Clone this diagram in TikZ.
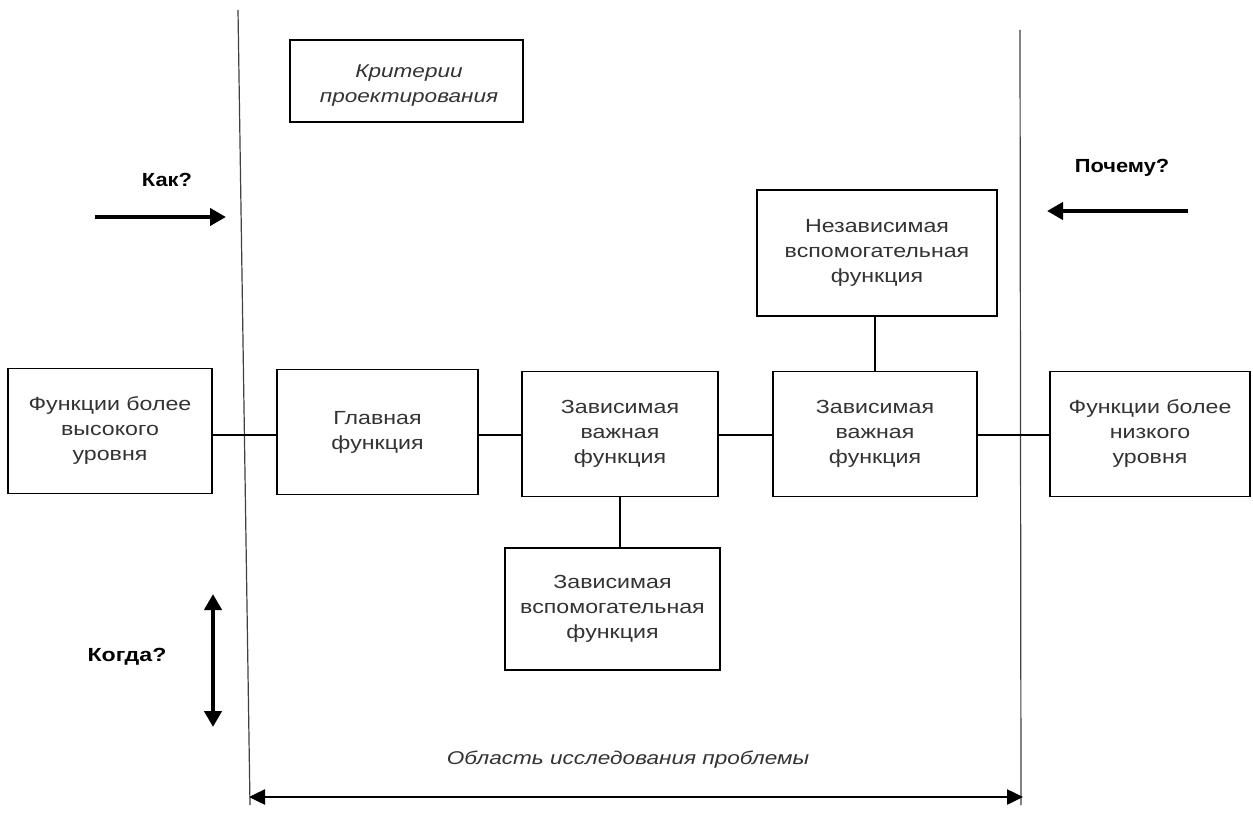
\documentclass[tikz,border=0pt]{standalone}
\usepackage{fontspec}
\setmainfont{Liberation Sans}
\newfontfamily\bxfont[FakeStretch=1.22]{Liberation Sans}
\newfontfamily\lblfont[FakeStretch=1.15]{Liberation Sans}
\usetikzlibrary{arrows.meta}
\begin{document}
\begin{tikzpicture}[x=1pt,y=-1pt,
  fbox/.style={draw,line width=1.6pt,align=center,text=black!80,font=\bxfont\fontsize{19}{25}\selectfont,inner sep=0pt,minimum height=125pt},
  conn/.style={line width=1.4pt},
  bigarrow/.style={line width=4pt,-{Triangle[length=16pt,width=17pt]}},
  lbl/.style={font=\lblfont\fontsize{19}{24}\selectfont\bfseries},
  bound/.style={line width=1.2pt,draw=black!75}]
\useasboundingbox[fill=white] (0,0) rectangle (1253,821);
% boundary lines
\coordinate (lt) at (238,10);
\coordinate (lb) at (250,805);
\coordinate (rt) at (1020,30);
\coordinate (rb) at (1021,805);
\draw[bound] (lt) -- (lb);
\draw[bound] (rt) -- (rb);
% boxes
\node[fbox,minimum width=233pt,minimum height=82pt] (crit) at (406.5,81) {};
\node[align=center,text=black!80,font=\bxfont\fontsize{18.5}{25}\selectfont\itshape,inner sep=0pt] (crittext) at (409,86) {Критерии\\проектирования};
\node[fbox,minimum width=240pt,minimum height=126pt] (indep) at (877,253) {Независимая\\вспомогательная\\функция};
\node[fbox,minimum width=204pt] (high) at (110,431) {Функции более\\высокого\\уровня};
\node[fbox,minimum width=201pt] (main) at (377.5,432) {Главная\\функция};
\node[fbox,minimum width=196pt] (dep1) at (620,434) {Зависимая\\важная\\функция};
\node[fbox,minimum width=204pt] (dep2) at (875,434) {Зависимая\\важная\\функция};
\node[fbox,minimum width=200pt] (low) at (1150,434) {Функции более\\низкого\\уровня};
\node[fbox,minimum width=215pt,minimum height=122pt] (depaux) at (612.5,609) {Зависимая\\вспомогательная\\функция};
% connectors
\coordinate (c1) at (212,435);
\draw[conn] (c1) -- (c1 -| main.west);
\coordinate (c2) at (478,435);
\draw[conn] (c2) -- (c2 -| dep1.west);
\coordinate (c3) at (718,435);
\draw[conn] (c3) -- (c3 -| dep2.west);
\coordinate (c4) at (977,435);
\draw[conn] (c4) -- (c4 -| low.west);
\draw[conn] (indep.south -| dep2.north) -- (dep2.north);
\draw[conn] (dep1.south) -- (dep1.south |- depaux.north);
% labels
\node[lbl] (kak) at (167,180) {Как?};
\node[lbl] (pochemu) at (1122,168) {Почему?};
\node[lbl,font=\bxfont\fontsize{19}{24}\selectfont\bfseries] (kogda) at (127,657) {Когда?};
\node[text=black!80,font=\bxfont\fontsize{18.5}{22}\selectfont\itshape] (area) at (628,760) {Область исследования проблемы};
% arrows
\coordinate (k1) at (95,217);
\coordinate (k2) at (226,217);
\draw[bigarrow] (k1) -- (k2);
\coordinate (p1) at (1188,211);
\coordinate (p2) at (1047,211);
\draw[bigarrow] (p1) -- (p2);
\coordinate (w1) at (213,594);
\coordinate (w2) at (213,727);
\draw[line width=4pt,{Triangle[length=16pt,width=17pt]}-{Triangle[length=16pt,width=17pt]}] (w1) -- (w2);
\coordinate (a1) at (249,797);
\coordinate (a2) at (1023,797);
\draw[line width=2.5pt,{Triangle[length=16pt,width=15pt]}-{Triangle[length=16pt,width=15pt]}] (a1) -- (a2);
\end{tikzpicture}
\end{document}
